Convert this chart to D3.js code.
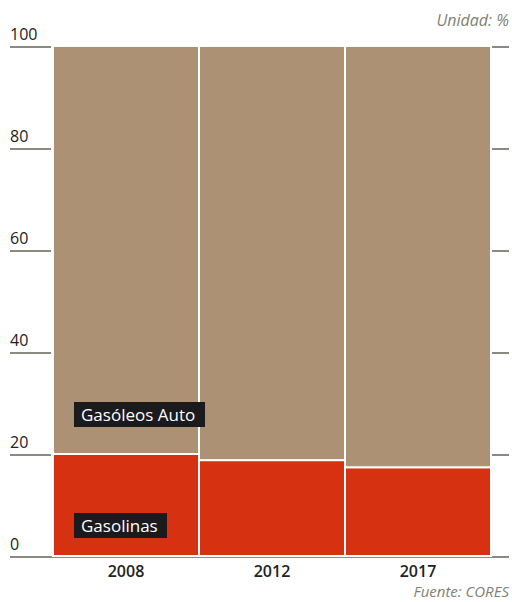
<!DOCTYPE html>
<html lang="es">
<head>
    <meta charset="utf-8">
    <title>Gasolinas vs Gasóleos</title>
    <style>
        body { margin: 0; background: #fff; }
        svg text { font-family: "Open Sans", "Noto Sans", sans-serif; }
        .grid line { stroke: #8a8a80; stroke-width: 2px; }
    </style>
</head>
<body>
<div id="chart"></div>
<script src="https://d3js.org/d3.v7.min.js"></script>
<script>
    const years = ["2008", "2012", "2017"];
    const gasolinas = [20.0, 18.8, 17.4];
    const gasoleos = [80.0, 81.2, 82.6];
    const yTicks = [0, 20, 40, 60, 80, 100];
    const seriesNames = ["Gasolinas", "Gasóleos Auto"];
    const colors = ["#d63111", "#ad9174"];

    const width = 512, height = 602;
    const svg = d3.select("#chart").append("svg")
        .attr("width", width).attr("height", height);

    const x = d3.scaleBand().domain(years).range([53, 491]).padding(0);
    const y = d3.scaleLinear().domain([0, 100]).range([556, 46]);

    // tick lines (left and right stubs)
    const grid = svg.append("g").attr("class", "grid");
    grid.selectAll("line.l").data(yTicks).enter().append("line")
        .attr("class", "l")
        .attr("x1", 10).attr("x2", 51)
        .attr("y1", d => y(d) + 1).attr("y2", d => y(d) + 1);
    grid.selectAll("line.r").data(yTicks.filter(d => d > 0)).enter().append("line")
        .attr("class", "r")
        .attr("x1", 492).attr("x2", 509)
        .attr("y1", d => y(d) + 1).attr("y2", d => y(d) + 1);
    grid.append("line")
        .attr("x1", 10).attr("x2", 509)
        .attr("y1", y(0) + 1).attr("y2", y(0) + 1);

    svg.append("g").selectAll("text").data(yTicks).enter().append("text")
        .attr("x", 10).attr("y", d => y(d) - 6)
        .attr("font-size", 16).attr("font-weight", 500).attr("fill", "#222")
        .text(d => d);

    const stacked = years.map((yr, i) => ({year: yr, vals: [gasolinas[i], gasoleos[i]]}));
    const bars = svg.append("g");
    stacked.forEach(d => {
        let base = 0;
        d.vals.forEach((v, j) => {
            bars.append("rect")
                .attr("x", x(d.year))
                .attr("width", x.bandwidth())
                .attr("y", y(base + v))
                .attr("height", y(base) - y(base + v))
                .attr("fill", colors[j])
                .attr("stroke", "#fff")
                .attr("stroke-width", 2);
            base += v;
        });
    });

    svg.append("g").selectAll("text").data(years).enter().append("text")
        .attr("x", d => x(d) + x.bandwidth() / 2)
        .attr("y", 577)
        .attr("text-anchor", "middle")
        .attr("font-size", 16).attr("font-weight", 600).attr("fill", "#222")
        .text(d => d);

    // series labels
    const labelPos = [{x: 74, y: 513, w: 93}, {x: 74, y: 402, w: 131}];
    seriesNames.forEach((name, j) => {
        const p = labelPos[j];
        svg.append("rect").attr("x", p.x).attr("y", p.y)
            .attr("width", p.w).attr("height", 25).attr("fill", "#1b1a1d");
        svg.append("text").attr("x", p.x + 7).attr("y", p.y + 19)
            .attr("font-size", 17).attr("font-weight", 500).attr("fill", "#fff")
            .text(name);
    });

    svg.append("text").attr("x", 509).attr("y", 26)
        .attr("text-anchor", "end").attr("font-size", 16)
        .attr("font-style", "italic").attr("fill", "#7f7f75")
        .text("Unidad: %");
    svg.append("text").attr("x", 509).attr("y", 597)
        .attr("text-anchor", "end").attr("font-size", 15)
        .attr("font-style", "italic").attr("fill", "#7f7f75")
        .text("Fuente: CORES");
</script>
</body>
</html>
